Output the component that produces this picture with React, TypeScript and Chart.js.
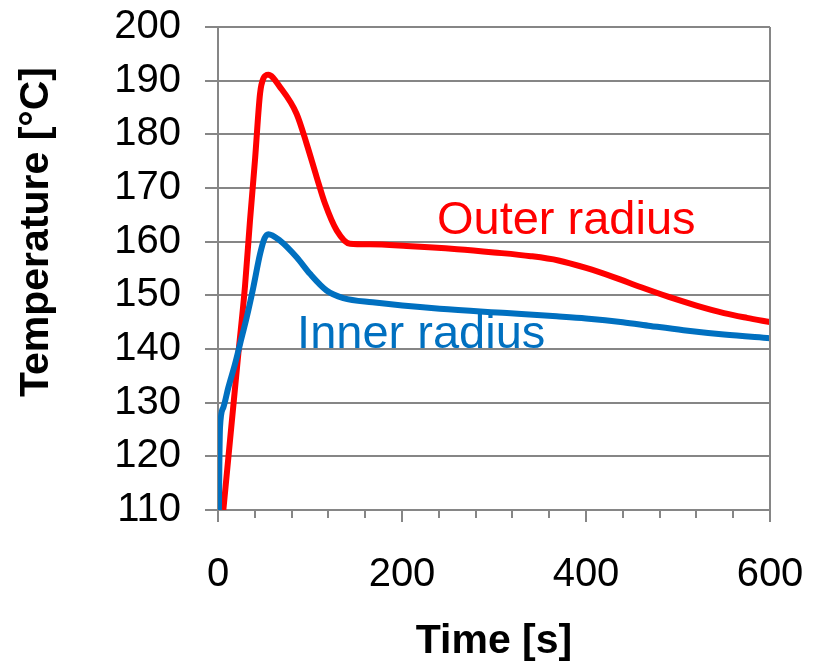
import React, { useEffect, useRef } from 'react';
import { Chart, registerables } from 'chart.js';

Chart.register(...registerables);

// ---- data ----
const outerTime = [5.8, 22.1, 29.3, 34.8, 40.2, 45.7, 49.3, 54.7, 67.4, 85.5, 96.4, 107.3, 116.3, 129, 143.5, 165, 205, 260, 300, 340, 370, 400, 430, 460, 490, 520, 550, 575, 600];
const outerTemp = [110, 139.1, 151.6, 164.0, 175.2, 187.6, 190.4, 191.1, 188.8, 183.8, 178.2, 172.0, 167.1, 162.1, 159.6, 159.5, 159.2, 158.6, 158.0, 157.3, 156.5, 155.1, 153.4, 151.5, 149.7, 148.1, 146.7, 145.8, 145.0];

const innerTime = [1, 1.5, 2.2, 5.8, 11.2, 18.5, 23.9, 31.2, 38.4, 45.7, 50.5, 54.7, 67.4, 85.5, 100, 118, 136.2, 168, 241, 314, 368, 400, 440, 470, 506, 550, 600];
const innerTemp = [110, 119, 125.4, 129.1, 132.8, 137.2, 140.9, 145.9, 151.5, 157.7, 160.6, 161.4, 160.2, 157.1, 154.0, 150.9, 149.5, 148.7, 147.5, 146.7, 146.1, 145.7, 145.0, 144.3, 143.5, 142.7, 142.0];

const xMin = 0;
const xMax = 600;
const xMinorStep = 40;
const xLabelStep = 200;
const yMin = 110;
const yMax = 200;
const yStep = 10;

const outerName = 'Outer radius';
const innerName = 'Inner radius';
const outerLabelPos = [238, 161.4];
const innerLabelPos = [86, 140.1];
const xTitle = 'Time [s]';
const yTitle = 'Temperature [°C]';

const RED = '#FF0000';
const BLUE = '#0070C0';
const GRID = '#868686';
const FONT = "'Liberation Sans', Arial, sans-serif";

const overlayPlugin = {
  id: 'overlay',
  afterDatasetsDraw(chart: any) {
    const { ctx, chartArea, scales } = chart;
    const x = scales.x;
    const y = scales.y;
    ctx.save();
    // right border
    ctx.strokeStyle = GRID;
    ctx.lineWidth = 2;
    ctx.beginPath();
    ctx.moveTo(chartArea.right, chartArea.top);
    ctx.lineTo(chartArea.right, chartArea.bottom);
    ctx.stroke();
    // minor x ticks
    for (let v = xMin + xMinorStep; v < xMax; v += xMinorStep) {
      if (v % xLabelStep === 0) continue;
      const px = Math.round(x.getPixelForValue(v));
      ctx.beginPath();
      ctx.moveTo(px, chartArea.bottom);
      ctx.lineTo(px, chartArea.bottom + 8);
      ctx.stroke();
    }
    // series labels
    ctx.font = `47px ${FONT}`;
    ctx.textAlign = 'left';
    ctx.textBaseline = 'alphabetic';
    ctx.fillStyle = RED;
    ctx.fillText(outerName, x.getPixelForValue(outerLabelPos[0]), y.getPixelForValue(outerLabelPos[1]));
    ctx.fillStyle = BLUE;
    ctx.fillText(innerName, x.getPixelForValue(innerLabelPos[0]), y.getPixelForValue(innerLabelPos[1]));
    // y title
    ctx.fillStyle = '#000';
    ctx.font = `bold 41px ${FONT}`;
    ctx.textAlign = 'center';
    ctx.textBaseline = 'middle';
    ctx.translate(37, 232);
    ctx.rotate(-Math.PI / 2);
    ctx.fillText(yTitle, 0, 0);
    ctx.restore();
  },
};

export default function App() {
  const ref = useRef<HTMLCanvasElement | null>(null);
  useEffect(() => {
    if (!ref.current) return;
    const chart = new Chart(ref.current, {
      type: 'scatter',
      data: {
        datasets: [
          {
            label: innerName,
            data: innerTime.map((t, i) => ({ x: t, y: innerTemp[i] })),
            borderColor: BLUE,
            backgroundColor: BLUE,
            borderWidth: 6,
            showLine: true,
            pointRadius: 0,
            cubicInterpolationMode: 'monotone',
          },
          {
            label: outerName,
            data: outerTime.map((t, i) => ({ x: t, y: outerTemp[i] })),
            borderColor: RED,
            backgroundColor: RED,
            borderWidth: 6,
            showLine: true,
            pointRadius: 0,
            cubicInterpolationMode: 'monotone',
          },
        ],
      },
      options: {
        animation: false,
        responsive: false,
        layout: { padding: { top: 27, right: 47, left: 0, bottom: 0 } },
        plugins: { legend: { display: false }, tooltip: { enabled: false } },
        scales: {
          x: {
            type: 'linear',
            min: xMin,
            max: xMax,
            afterFit: (s: any) => {
              s.height = 154;
              s.paddingLeft = 0;
              s.paddingRight = 0;
            },
            ticks: {
              stepSize: xMinorStep,
              autoSkip: false,
              maxRotation: 0,
              padding: 29,
              color: '#000',
              font: { family: FONT, size: 40 },
              callback: (v: any) => (Number(v) % xLabelStep === 0 ? String(v) : ''),
            },
            grid: {
              drawOnChartArea: false,
              drawTicks: true,
              tickLength: 12,
              lineWidth: 2,
              color: GRID,
              tickColor: (c: any) => (c.tick && c.tick.value % xLabelStep === 0 ? GRID : 'rgba(0,0,0,0)'),
            },
            border: { display: true, color: GRID, width: 2 },
            title: {
              display: true,
              text: xTitle,
              color: '#000',
              font: { family: FONT, size: 41, weight: 'bold' },
              padding: { top: 0, bottom: -2 },
            },
          },
          y: {
            min: yMin,
            max: yMax,
            afterFit: (s: any) => {
              s.width = 218;
              s.paddingTop = 0;
              s.paddingBottom = 0;
            },
            ticks: {
              stepSize: yStep,
              padding: 24,
              color: '#000',
              font: { family: FONT, size: 40 },
            },
            grid: {
              drawTicks: true,
              tickLength: 13,
              lineWidth: 2,
              color: GRID,
            },
            border: { display: true, color: GRID, width: 2 },
          },
        },
      },
      plugins: [overlayPlugin],
    } as any);
    return () => chart.destroy();
  }, []);
  return (
    <div style={{ position: 'absolute', left: 0, top: 0, width: 817, height: 664, background: '#fff' }}>
      <canvas ref={ref} width={817} height={664} />
    </div>
  );
}
